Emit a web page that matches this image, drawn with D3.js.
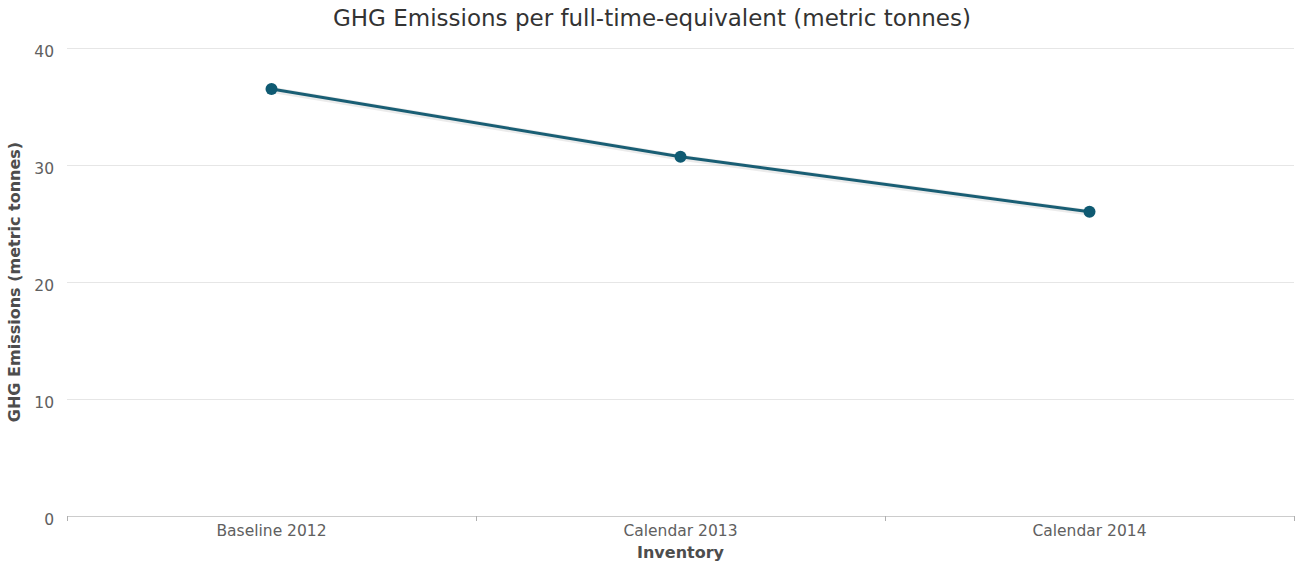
<!DOCTYPE html>
<html lang="en">
  <head>
    <meta charset="utf-8">
    <title>GHG Emissions per FTE</title>
    <script src="https://d3js.org/d3.v7.js"></script>
    <style>
      body { margin: 0; background: #fff; }
      text { font-family: "DejaVu Sans", sans-serif; }
    </style>
  </head>

  <body>

  <script>

  // data
  var categories = ["Baseline 2012", "Calendar 2013", "Calendar 2014"];
  var values = [36.5, 30.7, 26.0];
  var yTicks = [0, 10, 20, 30, 40];

  var w = 1295;
  var h = 563;
  var m = {left: 67, right: 1294, top: 48, bottom: 516};

  var svg = d3.select("body")
    .append("svg")
      .attr("width", w)
      .attr("height", h);

  var xScale = d3.scaleBand()
      .domain(categories)
      .range([m.left, m.right]);

  var yScale = d3.scaleLinear()
      .domain([0, 40])
      .range([m.bottom, m.top]);

  // grid lines
  svg.selectAll("line.grid")
      .data(yTicks.filter(d => d > 0))
      .enter().append("line")
      .attr("class", "grid")
      .attr("x1", m.left)
      .attr("x2", m.right)
      .attr("y1", d => Math.round(yScale(d)) + 0.5)
      .attr("y2", d => Math.round(yScale(d)) + 0.5)
      .attr("stroke", "#e6e6e6");

  // y labels
  svg.selectAll("text.ylab")
      .data(yTicks)
      .enter().append("text")
      .attr("class", "ylab")
      .attr("x", 54)
      .attr("y", d => yScale(d) + 9)
      .attr("text-anchor", "end")
      .attr("fill", "#606060")
      .style("font-size", "15.5px")
      .text(d => d);

  // x axis
  svg.append("line")
      .attr("x1", m.left).attr("x2", m.right + 1)
      .attr("y1", m.bottom + 0.5).attr("y2", m.bottom + 0.5)
      .attr("stroke", "#cccccc");

  var tickPos = categories.map(c => xScale(c)).concat([m.right]);
  svg.selectAll("line.xtick")
      .data(tickPos)
      .enter().append("line")
      .attr("class", "xtick")
      .attr("x1", d => Math.round(d) + 0.5)
      .attr("x2", d => Math.round(d) + 0.5)
      .attr("y1", m.bottom)
      .attr("y2", m.bottom + 5)
      .attr("stroke", "#b0b0b0");

  svg.selectAll("text.xlab")
      .data(categories)
      .enter().append("text")
      .attr("class", "xlab")
      .attr("x", d => xScale(d) + xScale.bandwidth() / 2)
      .attr("y", 536)
      .attr("text-anchor", "middle")
      .attr("fill", "#606060")
      .style("font-size", "15.5px")
      .text(d => d);

  // axis titles
  svg.append("text")
      .attr("x", (m.left + m.right) / 2)
      .attr("y", 558)
      .attr("text-anchor", "middle")
      .attr("fill", "#4d4d4d")
      .style("font-size", "16px")
      .style("font-weight", "bold")
      .text("Inventory");

  svg.append("text")
      .attr("transform", "translate(20," + ((m.top + m.bottom) / 2) + ") rotate(-90)")
      .attr("text-anchor", "middle")
      .attr("fill", "#4d4d4d")
      .style("font-size", "16px")
      .style("font-weight", "bold")
      .text("GHG Emissions (metric tonnes)");

  // title
  svg.append("text")
      .attr("x", 652)
      .attr("y", 26)
      .attr("text-anchor", "middle")
      .attr("fill", "#333333")
      .style("font-size", "23px")
      .text("GHG Emissions per full-time-equivalent (metric tonnes)");

  // line
  var line = d3.line()
      .x((d, i) => xScale(categories[i]) + xScale.bandwidth() / 2)
      .y(d => yScale(d));

  svg.append("path")
      .datum(values)
      .attr("d", line)
      .attr("fill", "none")
      .attr("stroke", "#000")
      .attr("stroke-opacity", 0.08)
      .attr("stroke-width", 6)
      .attr("transform", "translate(1,1)");

  svg.append("path")
      .datum(values)
      .attr("d", line)
      .attr("fill", "none")
      .attr("stroke", "#195e74")
      .attr("stroke-width", 3);

  svg.selectAll("circle")
      .data(values)
      .enter().append("circle")
      .attr("cx", (d, i) => xScale(categories[i]) + xScale.bandwidth() / 2)
      .attr("cy", d => yScale(d))
      .attr("r", 6)
      .attr("fill", "#0f5a72");

    </script>

  </body>

</html>
